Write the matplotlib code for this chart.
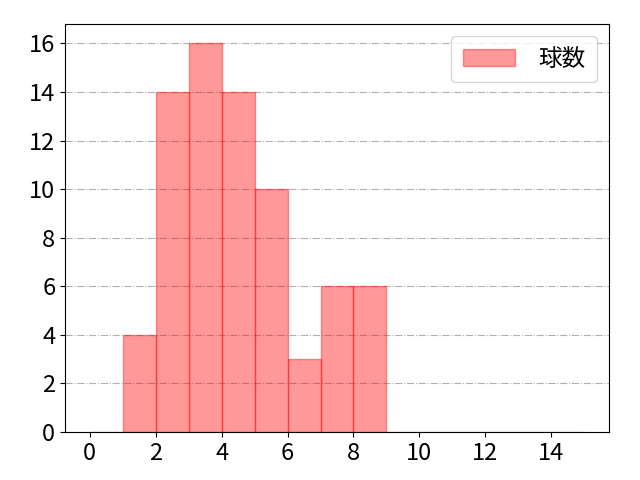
import numpy as np
import matplotlib
matplotlib.use('Agg')
import matplotlib.pyplot as plt

plt.rcParams['font.family'] = ['Noto Sans CJK JP', 'DejaVu Sans']

# pitch-count histogram: bin edges 0..15, counts per bin
bin_edges = list(range(0, 16))
counts = [0, 4, 14, 16, 14, 10, 3, 6, 6, 0, 0, 0, 0, 0, 0]

fig, ax = plt.subplots(figsize=(6.4, 4.8), dpi=100)
ax.hist(bin_edges[:-1], bins=bin_edges, weights=counts,
        color='red', alpha=0.4, edgecolor='red', label='球数')
ax.grid(axis='y', linestyle='-.', color='#b0b0b0')
ax.set_axisbelow(True)
ax.set_xticks(range(0, 16, 2))
ax.set_yticks(range(0, 17, 2))
ax.tick_params(labelsize=17)
ax.legend(fontsize=17, loc='upper right', borderpad=0.5, handlelength=2.2,
          handletextpad=1.0)
fig.subplots_adjust(left=65 / 640, right=609 / 640, top=1 - 24 / 480,
                    bottom=1 - 432 / 480)
fig.savefig('out.png')
